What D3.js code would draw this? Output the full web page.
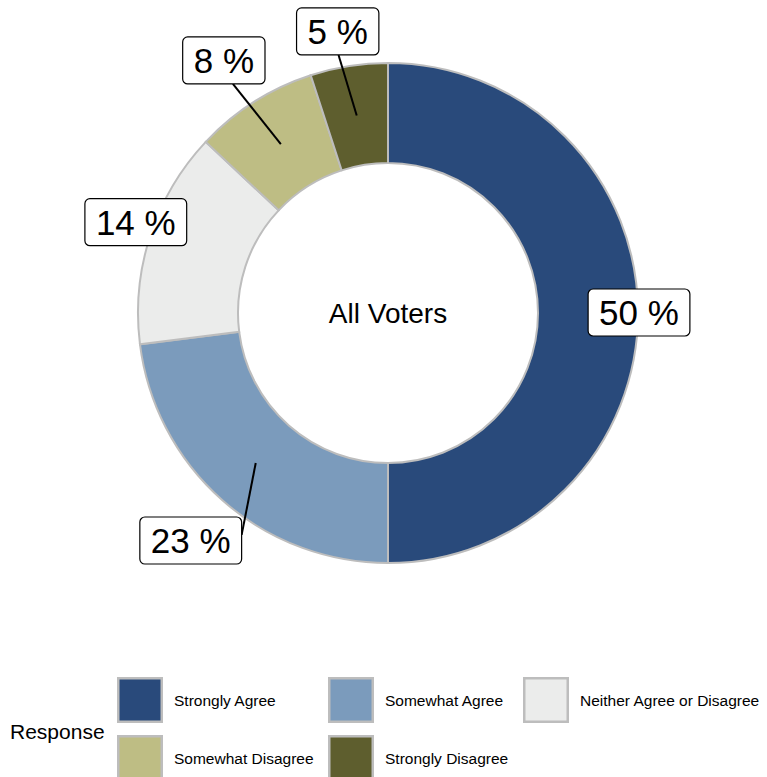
<!DOCTYPE html>
<html>
<head>
<meta charset="utf-8">
<script src="https://cdn.jsdelivr.net/npm/d3@7"></script>
<style>
  html, body { margin: 0; padding: 0; background: #ffffff; }
  svg { display: block; font-family: "Liberation Sans", Arial, Helvetica, sans-serif; }
</style>
</head>
<body>
<svg id="chart" width="767" height="777"></svg>
<script>
// ---- data ----
const categories = ["Strongly Agree", "Somewhat Agree", "Neither Agree or Disagree", "Somewhat Disagree", "Strongly Disagree"];
const values = [50, 23, 14, 8, 5];
const colors = ["#294a7b", "#7b9bbc", "#ebeceb", "#bebd84", "#5e5e2e"];
const centerLabel = "All Voters";
const legendTitle = "Response";

// ---- layout (label box offsets from slice anchor, segment attach fractions) ----
const labelOffsets = [[51, -0.5], [-65, 77.5], [-62, -29], [-57, -83.7], [-19, -84]];
const segmentAttach = [null, [0.5, -0.12], null, [0.11, 0.5], [0.01, 0.5]];

const svg = d3.select("#chart");
const cx = 388, cy = 313;
const rInner = 150, rOuter = 250, rLabel = 200;

const pie = d3.pie().sort(null).value(d => d).startAngle(0).endAngle(2 * Math.PI);
const arcs = pie(values);
const arc = d3.arc().innerRadius(rInner).outerRadius(rOuter);
const color = d3.scaleOrdinal().domain(categories).range(colors);

const g = svg.append("g").attr("transform", `translate(${cx},${cy})`);
g.selectAll("path.slice")
  .data(arcs)
  .join("path")
  .attr("class", "slice")
  .attr("d", arc)
  .attr("fill", (d, i) => color(categories[i]))
  .attr("stroke", "#bdbdbd")
  .attr("stroke-width", 2);

g.append("text")
  .attr("x", 0).attr("y", 0)
  .attr("text-anchor", "middle")
  .attr("dominant-baseline", "central")
  .attr("font-size", 28)
  .attr("fill", "#000")
  .text(centerLabel);

// labels
const labelArc = d3.arc().innerRadius(rLabel).outerRadius(rLabel);
const labelG = svg.append("g").attr("transform", `translate(${cx},${cy})`);
arcs.forEach((d, i) => {
  const [ax, ay] = labelArc.centroid(d);
  const lx = ax + labelOffsets[i][0];
  const ly = ay + labelOffsets[i][1];
  const txt = `${values[i]} %`;
  const tmp = labelG.append("text").attr("font-size", 35).text(txt);
  const tw = tmp.node().getComputedTextLength();
  tmp.remove();
  const bw = tw + 22, bh = 47;
  if (segmentAttach[i]) {
    const ex = lx + segmentAttach[i][0] * bw;
    const ey = ly + segmentAttach[i][1] * bh;
    labelG.append("line")
      .attr("x1", ax).attr("y1", ay).attr("x2", ex).attr("y2", ey)
      .attr("stroke", "#000").attr("stroke-width", 2);
  }
  labelG.append("rect")
    .attr("x", lx - bw / 2).attr("y", ly - bh / 2)
    .attr("width", bw).attr("height", bh)
    .attr("rx", 5).attr("ry", 5)
    .attr("fill", "#fff").attr("stroke", "#000").attr("stroke-width", 1.2);
  labelG.append("text")
    .attr("x", lx).attr("y", ly)
    .attr("text-anchor", "middle")
    .attr("dominant-baseline", "central")
    .attr("font-size", 35)
    .attr("fill", "#000")
    .text(txt);
});

// legend
const legendCols = [117, 328, 523];
const legendRows = [677, 735];
const keySize = 46;
svg.append("text")
  .attr("x", 10).attr("y", 731)
  .attr("dominant-baseline", "central")
  .attr("font-size", 21)
  .attr("fill", "#000")
  .text(legendTitle);

categories.forEach((c, i) => {
  const col = i % 3, row = Math.floor(i / 3);
  const kx = legendCols[col], ky = legendRows[row];
  svg.append("rect")
    .attr("x", kx + 1.25).attr("y", ky + 1.25)
    .attr("width", keySize - 2.5).attr("height", keySize - 2.5)
    .attr("fill", color(c))
    .attr("stroke", "#bdbdbd").attr("stroke-width", 2.5);
  svg.append("text")
    .attr("x", kx + 57).attr("y", ky + keySize / 2)
    .attr("dominant-baseline", "central")
    .attr("font-size", 15.5)
    .attr("fill", "#000")
    .text(c);
});
</script>
</body>
</html>
